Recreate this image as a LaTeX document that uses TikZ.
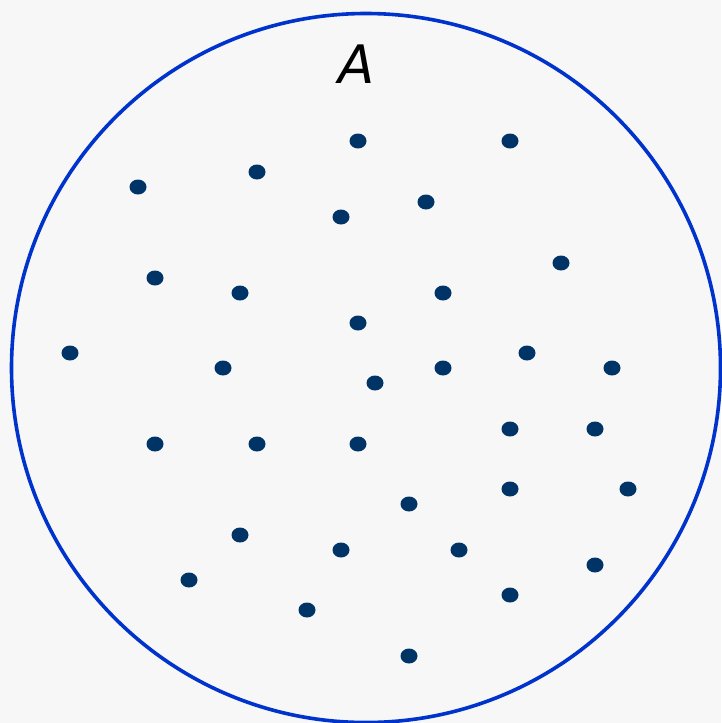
\documentclass[tikz,border=0pt]{standalone}
\usepackage{fontspec}
\setmainfont{DejaVu Sans}
\definecolor{bgc}{HTML}{F7F7F7}
\definecolor{ringc}{HTML}{0033CC}
\definecolor{dotc}{HTML}{003366}
\begin{document}
\begin{tikzpicture}[x=1pt,y=-1pt,
  ringst/.style={circle,draw=ringc,line width=3.6pt,minimum size=709pt,inner sep=0pt},
  dotst/.style={fill=dotc},
]
\fill[bgc] (0,0) rectangle (721,723);
\useasboundingbox (0,0) rectangle (721,723);
\node[ringst] (ring) at (366,368) {};
\node[font=\fontsize{53}{60}\selectfont\itshape,anchor=base] (lab) at (357,83) {A};
\foreach \x/\y [count=\i] in {358/141,510/141,138/187,257/172,341/217,426/202,561/263,155/278,240/293,443/293,358/323,70/353,223/368,375/383,443/368,527/353,612/368,155/444,257/444,358/444,510/429,595/429,409/504,510/489,628/489,240/535,341/550,459/550,595/565,189/580,307/610,510/595,409/656}
  \fill[dotst] (\x,\y) ellipse [x radius=8.5pt, y radius=7.5pt];
\end{tikzpicture}
\end{document}
